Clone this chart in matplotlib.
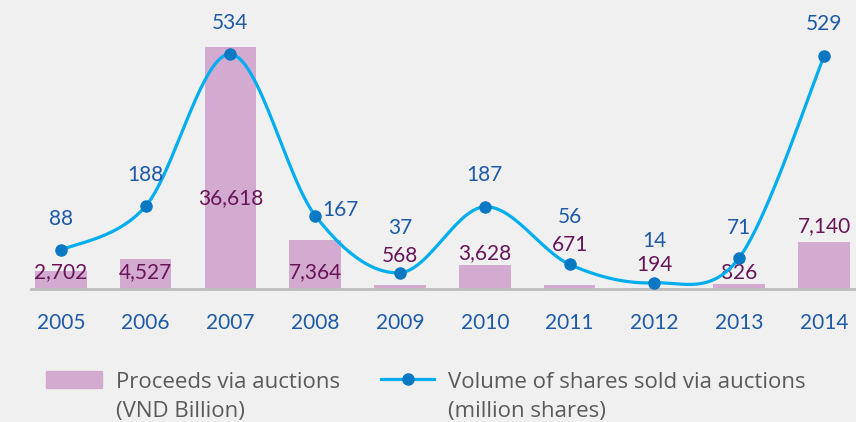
import numpy as np
import matplotlib.pyplot as plt
from matplotlib.patches import Rectangle
from matplotlib.lines import Line2D

years = ["2005", "2006", "2007", "2008", "2009", "2010", "2011", "2012", "2013", "2014"]
proceeds = [2702, 4527, 36618, 7364, 568, 3628, 671, 194, 826, 7140]   # VND Billion
volume = [88, 188, 534, 167, 37, 187, 56, 14, 71, 529]                  # million shares

# label placement offsets (pixels) - hand placed like in the original
proceeds_dy = [-1, -13, -151, -32, 29, 12, 40, 23, 11, 16]
volume_dx = [0, 0, 0, 25, 0, 0, 0, 0, 0, 0]
volume_dy = [31, 31, 31, 6, 45, 32, 47, 42, 30, 32]

BG = "#f0f0f0"
BAR = "#d3abd1"
LINE = "#00aeef"
MARK = "#0a78c2"
BAR_TXT = "#6a1458"
LINE_TXT = "#1d5aa8"
LEG_TXT = "#5a5a5a"

plt.rcParams['font.family'] = ['Lato', 'DejaVu Sans']

W, H = 856, 422


def fx(px):
    return px / W


def fy(py):
    return 1 - py / H


def smooth(y, n=30):
    # bezier smoothing through the points (like a spreadsheet "smoothed line")
    y = np.asarray(y, float)
    x = np.arange(len(y), dtype=float)
    P = np.column_stack([x, y])
    P = np.vstack([P[0], P, P[-1]])
    out = []
    t = np.linspace(0, 1, n)[:, None]
    for i in range(1, len(P) - 2):
        p0, p1, p2, p3 = P[i - 1], P[i], P[i + 1], P[i + 2]
        c1 = p1 + (p2 - p0) / 6
        c2 = p2 - (p3 - p1) / 6
        seg = (1 - t) ** 3 * p1 + 3 * (1 - t) ** 2 * t * c1 + 3 * (1 - t) * t ** 2 * c2 + t ** 3 * p2
        out.append(seg)
    out = np.vstack(out)
    return out[:, 0], out[:, 1]


fig = plt.figure(figsize=(W / 100, H / 100), dpi=100)
fig.patch.set_facecolor(BG)

ax = fig.add_axes([fx(31), fy(289), fx(825), 289 / H])
ax.set_facecolor(BG)
xs = np.arange(len(years))

ax.bar(xs, proceeds, width=0.61, color=BAR, zorder=2)
ax.set_xlim(-0.351, 9.377)
ax.set_ylim(0, 43720)
for s in ["top", "right", "left"]:
    ax.spines[s].set_visible(False)
ax.spines["bottom"].set_color("#bdbdbd")
ax.spines["bottom"].set_linewidth(2)
ax.set_yticks([])
ax.set_xticks(xs, years)
ax.tick_params(axis="x", length=0, pad=17, labelsize=15, labelcolor=LINE_TXT)

for i, v in enumerate(proceeds):
    ax.annotate(f"{v:,}", (xs[i], v), xytext=(0, proceeds_dy[i]),
                textcoords="offset pixels", ha="center", va="center",
                fontsize=15, color=BAR_TXT, zorder=3)

ax2 = ax.twinx()
ax2.set_ylim(0, 657)
ax2.set_xlim(ax.get_xlim())
for s in ax2.spines.values():
    s.set_visible(False)
ax2.set_yticks([])

sx, sy = smooth(volume)
ax2.plot(sx, sy, color=LINE, lw=2.3, solid_capstyle="round", zorder=3)
ax2.plot(xs, volume, "o", color=MARK, ms=8, zorder=4)
for i, v in enumerate(volume):
    ax2.annotate(str(v), (xs[i], v), xytext=(volume_dx[i], volume_dy[i]),
                 textcoords="offset pixels", ha="center", va="center",
                 fontsize=15, color=LINE_TXT, annotation_clip=False)

# legend (drawn by hand to keep the two-line labels next to the keys)
fig.add_artist(Rectangle((fx(46), fy(388)), fx(56), 17 / H, color=BAR,
                         transform=fig.transFigure))
fig.add_artist(Line2D([fx(381), fx(434)], [fy(379), fy(379)], color=LINE, lw=2.3,
                      transform=fig.transFigure))
fig.add_artist(Line2D([fx(408)], [fy(379)], marker="o", ms=8, color=MARK,
                      transform=fig.transFigure))
leg_font = dict(fontsize=16, color=LEG_TXT, family=["Open Sans", "DejaVu Sans"],
                ha="left", va="baseline")
fig.text(fx(116), fy(388), "Proceeds via auctions", **leg_font)
fig.text(fx(116), fy(417), "(VND Billion)", **leg_font)
fig.text(fx(448), fy(388), "Volume of shares sold via auctions", **leg_font)
fig.text(fx(448), fy(417), "(million shares)", **leg_font)

fig.savefig("out.png", dpi=100, facecolor=BG)
